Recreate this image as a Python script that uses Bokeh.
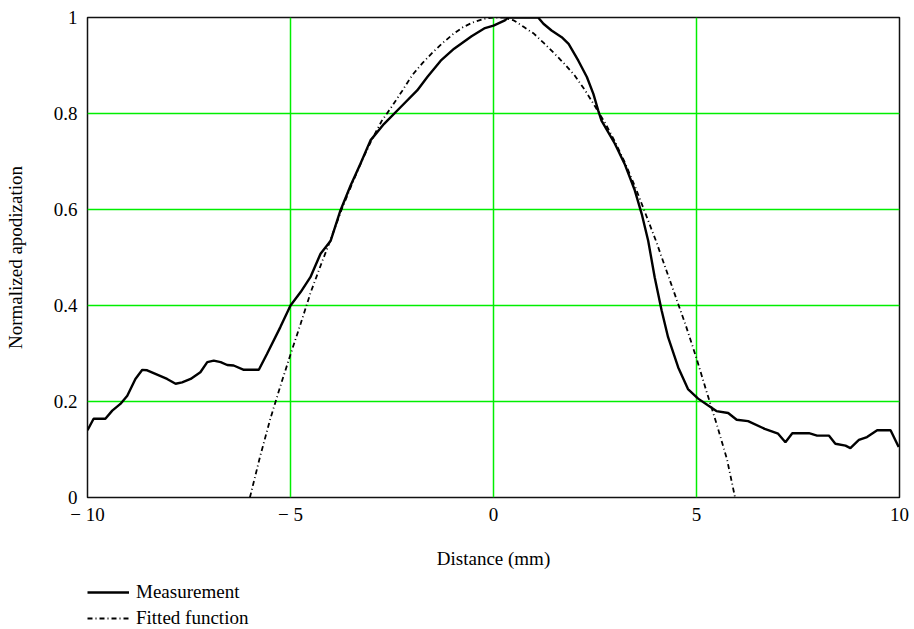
from bokeh.plotting import figure
from bokeh.models import Range1d, FixedTicker, Legend, LegendItem
from bokeh.layouts import column
from bokeh.embed import file_html
from bokeh.resources import INLINE

# Measurement (distance in mm, normalized apodization)
meas_x = [-10.0, -9.85, -9.56, -9.39, -9.19, -9.02, -8.82, -8.65, -8.53, -8.04,
          -7.83, -7.67, -7.46, -7.22, -7.05, -6.89, -6.72, -6.56, -6.40, -6.15,
          -5.78, -5.58, -5.25, -5.00, -4.75, -4.51, -4.26, -4.01, -3.77, -3.52,
          -3.28, -3.03, -2.70, -2.29, -1.88, -1.63, -1.30, -0.97, -0.54, -0.21,
          0.00, 0.28, 0.36, 1.10, 1.23, 1.43, 1.68, 1.85, 2.09, 2.30,
          2.46, 2.58, 2.66, 2.99, 3.23, 3.48, 3.65, 3.81, 3.97, 4.14,
          4.30, 4.55, 4.79, 5.04, 5.28, 5.49, 5.78, 5.99, 6.27, 6.68,
          7.01, 7.19, 7.36, 7.77, 7.97, 8.26, 8.42, 8.67, 8.79, 9.00,
          9.20, 9.45, 9.78, 9.98]
meas_y = [0.140, 0.164, 0.164, 0.181, 0.195, 0.212, 0.247, 0.266, 0.265, 0.247,
          0.237, 0.240, 0.247, 0.261, 0.282, 0.285, 0.282, 0.276, 0.275, 0.266,
          0.266, 0.299, 0.355, 0.400, 0.428, 0.459, 0.508, 0.535, 0.598, 0.650,
          0.695, 0.744, 0.778, 0.813, 0.848, 0.876, 0.910, 0.935, 0.961, 0.978,
          0.983, 0.994, 1.000, 1.000, 0.987, 0.973, 0.959, 0.945, 0.910, 0.876,
          0.841, 0.806, 0.785, 0.737, 0.695, 0.640, 0.591, 0.535, 0.459, 0.390,
          0.334, 0.271, 0.226, 0.206, 0.192, 0.180, 0.176, 0.162, 0.159, 0.143,
          0.133, 0.115, 0.134, 0.134, 0.129, 0.129, 0.112, 0.108, 0.103, 0.120,
          0.126, 0.140, 0.140, 0.105]

# Fitted function
fit_x = [-6.0, -5.75, -5.5, -5.25, -5.0, -4.75, -4.5, -4.25, -4.0, -3.75,
         -3.5, -3.25, -3.0, -2.75, -2.5, -2.25, -2.0, -1.75, -1.5, -1.25,
         -1.0, -0.75, -0.5, -0.25, 0.0, 0.25, 0.5, 0.75, 1.0, 1.25,
         1.5, 1.75, 2.0, 2.25, 2.5, 2.75, 3.0, 3.25, 3.5, 3.75,
         4.0, 4.25, 4.5, 4.75, 5.0, 5.25, 5.5, 5.75, 5.95]
fit_y = [0.0, 0.085, 0.163, 0.232, 0.298, 0.362, 0.428, 0.485, 0.540, 0.598,
         0.650, 0.700, 0.745, 0.785, 0.815, 0.847, 0.880, 0.905, 0.927, 0.947,
         0.965, 0.980, 0.990, 0.997, 1.0, 1.0, 0.994, 0.980, 0.966, 0.946,
         0.925, 0.903, 0.879, 0.849, 0.815, 0.780, 0.740, 0.695, 0.645, 0.590,
         0.535, 0.475, 0.415, 0.355, 0.290, 0.220, 0.152, 0.080, 0.0]

x_ticks = [-10, -5, 0, 5, 10]
x_tick_labels = ["\u2212 10", "\u2212 5", "0", "5", "10"]
y_ticks = [0, 0.2, 0.4, 0.6, 0.8, 1.0]
y_tick_labels = ["0", "0.2", "0.4", "0.6", "0.8", "1"]
series_names = ["Measurement", "Fitted function"]

FONT = "Liberation Serif"
FS = "19px"
MEAS_STYLE = dict(line_color="black", line_width=2.4)
FIT_STYLE = dict(line_color="black", line_width=1.8, line_dash="5 3 1 3")

p = figure(width=914, height=575, x_range=Range1d(-10, 10), y_range=Range1d(0, 1),
           output_backend="svg", toolbar_location=None,
           min_border_left=87, min_border_right=15, min_border_top=17, min_border_bottom=78)
p.background_fill_color = "white"
p.border_fill_color = "white"
p.outline_line_color = "#111111"
p.outline_line_width = 1.5

for ax, ticks, labels in ((p.xaxis[0], x_ticks, x_tick_labels), (p.yaxis[0], y_ticks, y_tick_labels)):
    ax.ticker = FixedTicker(ticks=ticks)
    ax.major_label_overrides = {t: l for t, l in zip(ticks, labels)}
    ax.major_tick_line_color = None
    ax.minor_tick_line_color = None
    ax.axis_line_color = None
    ax.major_label_text_font = FONT
    ax.major_label_text_font_size = FS
    ax.major_label_text_color = "black"
    ax.axis_label_text_font = FONT
    ax.axis_label_text_font_size = FS
    ax.axis_label_text_font_style = "normal"
    ax.axis_label_text_color = "black"

p.xaxis.axis_label = "Distance (mm)"
p.yaxis.axis_label = "Normalized apodization"
p.xaxis.major_label_standoff = 0
p.yaxis.major_label_standoff = 4
p.xaxis.axis_label_standoff = 20
p.yaxis.axis_label_standoff = 25

p.xgrid.ticker = FixedTicker(ticks=x_ticks)
p.ygrid.ticker = FixedTicker(ticks=y_ticks)
p.grid.grid_line_color = "#00ee00"
p.grid.grid_line_width = 1.5
p.grid.grid_line_alpha = 1.0

p.line(meas_x, meas_y, **MEAS_STYLE)
p.line(fit_x, fit_y, **FIT_STYLE)

# Legend strip below the chart (proxy lines lie outside its visible range)
lg = figure(width=914, height=54, x_range=Range1d(0, 1), y_range=Range1d(0, 1),
            x_axis_type=None, y_axis_type=None,
            output_backend="svg", toolbar_location=None,
            min_border_left=0, min_border_right=0, min_border_top=0, min_border_bottom=0)
lg.grid.visible = False
lg.outline_line_color = None
lg.background_fill_color = "white"
lg.border_fill_color = "white"
r_meas = lg.line([5, 6], [5, 6], **MEAS_STYLE)
r_fit = lg.line([5, 6], [5, 6], **FIT_STYLE)

legend = Legend(items=[LegendItem(label=series_names[0], renderers=[r_meas]),
                       LegendItem(label=series_names[1], renderers=[r_fit])],
                location=(0, 0), orientation="vertical",
                background_fill_alpha=0, border_line_color=None,
                padding=0, margin=0, spacing=4,
                glyph_width=42, glyph_height=20, label_height=20,
                label_standoff=7,
                label_text_font=FONT, label_text_font_size=FS, label_text_color="black")
lg.add_layout(legend, "center")

open("out.html", "w").write(file_html(column(p, lg, spacing=0), INLINE))
